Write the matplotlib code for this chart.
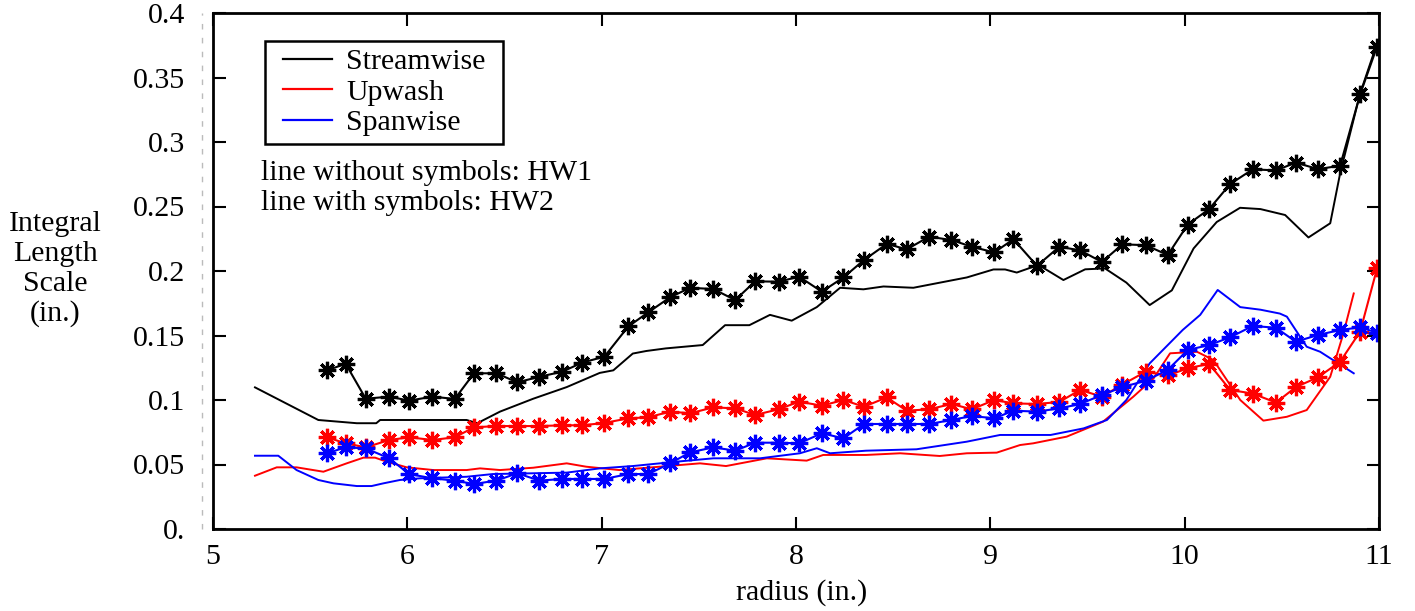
import matplotlib.pyplot as plt
from matplotlib.lines import Line2D

plt.rcParams['font.family'] = ['Liberation Serif', 'DejaVu Serif']
plt.rcParams['font.size'] = 21.5

# HW2 probe (lines with symbols) share one radius grid
r_hw2 = [5.585, 5.683, 5.786, 5.907, 6.009, 6.129, 6.244, 6.343, 6.458, 6.566,
         6.68, 6.798, 6.90, 7.014, 7.137, 7.24, 7.352, 7.455, 7.575, 7.687,
         7.79, 7.91, 8.016, 8.133, 8.244, 8.35, 8.467, 8.57, 8.685, 8.80,
         8.905, 9.02, 9.119, 9.24, 9.355, 9.462, 9.574, 9.68, 9.80, 9.913,
         10.016, 10.126, 10.234, 10.35, 10.47, 10.572, 10.686, 10.80, 10.903, 10.99]
stream_hw2 = [0.123, 0.128, 0.101, 0.1026, 0.0995, 0.1026, 0.1008, 0.1207, 0.1207, 0.1137,
              0.118, 0.122, 0.129, 0.1336, 0.157, 0.168, 0.1796, 0.187, 0.186, 0.1775,
              0.192, 0.1917, 0.1956, 0.184, 0.195, 0.2085, 0.221, 0.2168, 0.2266, 0.224,
              0.2188, 0.2144, 0.2246, 0.204, 0.2188, 0.216, 0.207, 0.2207, 0.220, 0.2124,
              0.236, 0.248, 0.2674, 0.2788, 0.278, 0.284, 0.279, 0.2816, 0.337, 0.374]
upwash_hw2 = [0.0711, 0.0664, 0.0633, 0.069, 0.0711, 0.069, 0.0711, 0.0788, 0.0798, 0.0798,
              0.0798, 0.0804, 0.0804, 0.0822, 0.0858, 0.0866, 0.091, 0.0897, 0.0943, 0.0935,
              0.0884, 0.0928, 0.0987, 0.0956, 0.100, 0.0948, 0.102, 0.0917, 0.0928, 0.0969,
              0.0928, 0.100, 0.0974, 0.0969, 0.0985, 0.1078, 0.1026, 0.112, 0.122, 0.119,
              0.1246, 0.128, 0.1078, 0.105, 0.098, 0.110, 0.1176, 0.1297, 0.153, 0.202]
span_hw2 = [0.0587, 0.0633, 0.0625, 0.0548, 0.0426, 0.0393, 0.0375, 0.0349, 0.0375, 0.0432,
            0.0375, 0.0388, 0.0388, 0.0388, 0.0426, 0.0426, 0.0509, 0.0594, 0.0633, 0.0607,
            0.0669, 0.0669, 0.0664, 0.0742, 0.0703, 0.0814, 0.0814, 0.0814, 0.0814, 0.0845,
            0.0876, 0.0858, 0.0917, 0.091, 0.0935, 0.0969, 0.1039, 0.110, 0.115, 0.1233,
            0.1388, 0.1426, 0.1486, 0.1574, 0.156, 0.1452, 0.1504, 0.1543, 0.1563, 0.1522]

# HW1 probe (lines without symbols)
r_stream_hw1 = [5.216, 5.542, 5.74, 5.84, 5.86, 6.305, 6.36, 6.477, 6.648, 6.82,
                6.99, 7.06, 7.16, 7.23, 7.33, 7.52, 7.635, 7.76, 7.866, 7.978,
                8.107, 8.227, 8.347, 8.45, 8.604, 8.707, 8.879, 9.016, 9.076, 9.136,
                9.248, 9.376, 9.488, 9.59, 9.70, 9.82, 9.934, 10.046, 10.165, 10.285,
                10.39, 10.517, 10.637, 10.749, 10.80, 10.903, 10.99]
stream_hw1 = [0.1098, 0.0845, 0.082, 0.082, 0.0845, 0.0845, 0.082, 0.091, 0.101, 0.110,
              0.121, 0.123, 0.136, 0.138, 0.140, 0.1426, 0.158, 0.158, 0.166, 0.1615,
              0.172, 0.187, 0.1858, 0.188, 0.187, 0.190, 0.195, 0.2012, 0.2012, 0.1988,
              0.2047, 0.193, 0.2013, 0.202, 0.191, 0.1736, 0.185, 0.2175, 0.238, 0.249,
              0.248, 0.2434, 0.226, 0.237, 0.2757, 0.3377, 0.3765]

r_upwash_hw1 = [5.216, 5.328, 5.43, 5.568, 5.688, 5.774, 5.834, 5.894, 5.997, 6.134,
                6.305, 6.374, 6.477, 6.648, 6.82, 6.92, 7.09, 7.30, 7.506, 7.64,
                7.85, 8.055, 8.14, 8.36, 8.536, 8.74, 8.879, 9.033, 9.153, 9.22,
                9.393, 9.58, 9.736, 9.84, 9.925, 10.063, 10.148, 10.286, 10.405, 10.526,
                10.628, 10.749, 10.817, 10.87]
upwash_hw1 = [0.0413, 0.0478, 0.0478, 0.0444, 0.0509, 0.0553, 0.0553, 0.0522, 0.0478, 0.0457,
              0.0457, 0.047, 0.0457, 0.0475, 0.0509, 0.0483, 0.0457, 0.0483, 0.0509, 0.0488,
              0.0548, 0.053, 0.0574, 0.0574, 0.0587, 0.0566, 0.0587, 0.0592, 0.0651, 0.0664,
              0.0716, 0.0832, 0.1026, 0.1168, 0.1362, 0.1374, 0.131, 0.100, 0.084, 0.087,
              0.0922, 0.118, 0.1517, 0.1826]

r_span_hw1 = [5.216, 5.336, 5.43, 5.542, 5.62, 5.74, 5.816, 5.877, 5.962, 6.065,
              6.305, 6.44, 6.648, 6.82, 6.99, 7.16, 7.386, 7.575, 7.815, 8.02,
              8.107, 8.175, 8.36, 8.62, 8.879, 9.05, 9.31, 9.48, 9.60, 9.70,
              9.82, 9.99, 10.08, 10.17, 10.286, 10.39, 10.49, 10.526, 10.628, 10.697,
              10.87]
span_hw1 = [0.0568, 0.0568, 0.0457, 0.038, 0.0354, 0.0333, 0.0333, 0.0354, 0.038, 0.0393,
            0.0405, 0.0426, 0.0432, 0.0437, 0.047, 0.0488, 0.0522, 0.0548, 0.0548, 0.0587,
            0.0626, 0.0587, 0.0607, 0.0618, 0.0677, 0.0729, 0.0729, 0.078, 0.0845, 0.100,
            0.1284, 0.1543, 0.166, 0.1853, 0.172, 0.170, 0.167, 0.1646, 0.1413, 0.1374,
            0.1207]

x_ticks = [5, 6, 7, 8, 9, 10, 11]
y_ticks = [0, 0.05, 0.1, 0.15, 0.2, 0.25, 0.3, 0.35, 0.4]
y_labels = ['0.', '0.05', '0.1', '0.15', '0.2', '0.25', '0.3', '0.35', '0.4']
series_names = ['Streamwise', 'Upwash', 'Spanwise']
colors = ['black', 'red', 'blue']

fig = plt.figure(figsize=(14.15, 6.11), dpi=100)
ax = fig.add_axes([213 / 1415, 1 - 529 / 611, 1166 / 1415, 516 / 611])

star = (8, 2, 0)
hw1 = [(r_stream_hw1, stream_hw1), (r_upwash_hw1, upwash_hw1), (r_span_hw1, span_hw1)]
hw2 = [stream_hw2, upwash_hw2, span_hw2]
for (xs, ys), c in zip(hw1, colors):
    ax.plot(xs, ys, color=c, lw=1.4)
for ys, c in zip(hw2, colors):
    ax.plot(r_hw2, ys, color=c, lw=1.5, marker=star, ms=12.5, mew=2.3)

ax.set_xlim(5, 11)
ax.set_ylim(0, 0.4)
ax.set_xticks(x_ticks)
ax.set_yticks(y_ticks)
ax.set_yticklabels(y_labels)
ax.tick_params(direction='in', length=9, width=1.5, top=True, right=True)
ax.tick_params(axis='y', pad=20)
ax.tick_params(axis='x', pad=11)
# top ticks only at the inner positions
for t in ax.xaxis.get_major_ticks():
    if t.get_loc() in (5, 11):
        t.tick2line.set_visible(False)
for s in ax.spines.values():
    s.set_linewidth(2)

# faint broken line left of the frame
ax.add_line(Line2D([-0.0094, -0.0094], [0, 1], transform=ax.transAxes,
                   color='#bbbbbb', lw=1, dashes=(4, 6), clip_on=False))

ax.set_xlabel('radius (in.)')
ax.xaxis.label.set_va('center')
ax.xaxis.set_label_coords(0.505, -0.124)

for i, line in enumerate(['Integral', 'Length', 'Scale', '(in.)']):
    py = 224 + 30 * i
    ax.text(-0.1355, (529 - py) / 516, line, transform=ax.transAxes,
            ha='center', va='center', clip_on=False)

handles = [Line2D([], [], color=c, lw=1.6) for c in colors]
leg = ax.legend(handles, series_names, loc='upper left',
                bbox_to_anchor=(0.0536, 0.9457), borderaxespad=0,
                fancybox=False, edgecolor='black', framealpha=1,
                borderpad=0.25, handlelength=1.64, handletextpad=0.47,
                labelspacing=0.12, fontsize=21.5)
frame = leg.get_frame()
frame.set_linewidth(1.8)
# widen the frame sideways only
frame.set_boxstyle('square', pad=0.35)
frame.set_mutation_aspect(0.001)

ax.text(0.0412, (529 - 173) / 516, 'line without symbols: HW1',
        transform=ax.transAxes, va='center')
ax.text(0.0412, (529 - 203) / 516, 'line with symbols: HW2',
        transform=ax.transAxes, va='center')

fig.savefig('out.png', dpi=100)
